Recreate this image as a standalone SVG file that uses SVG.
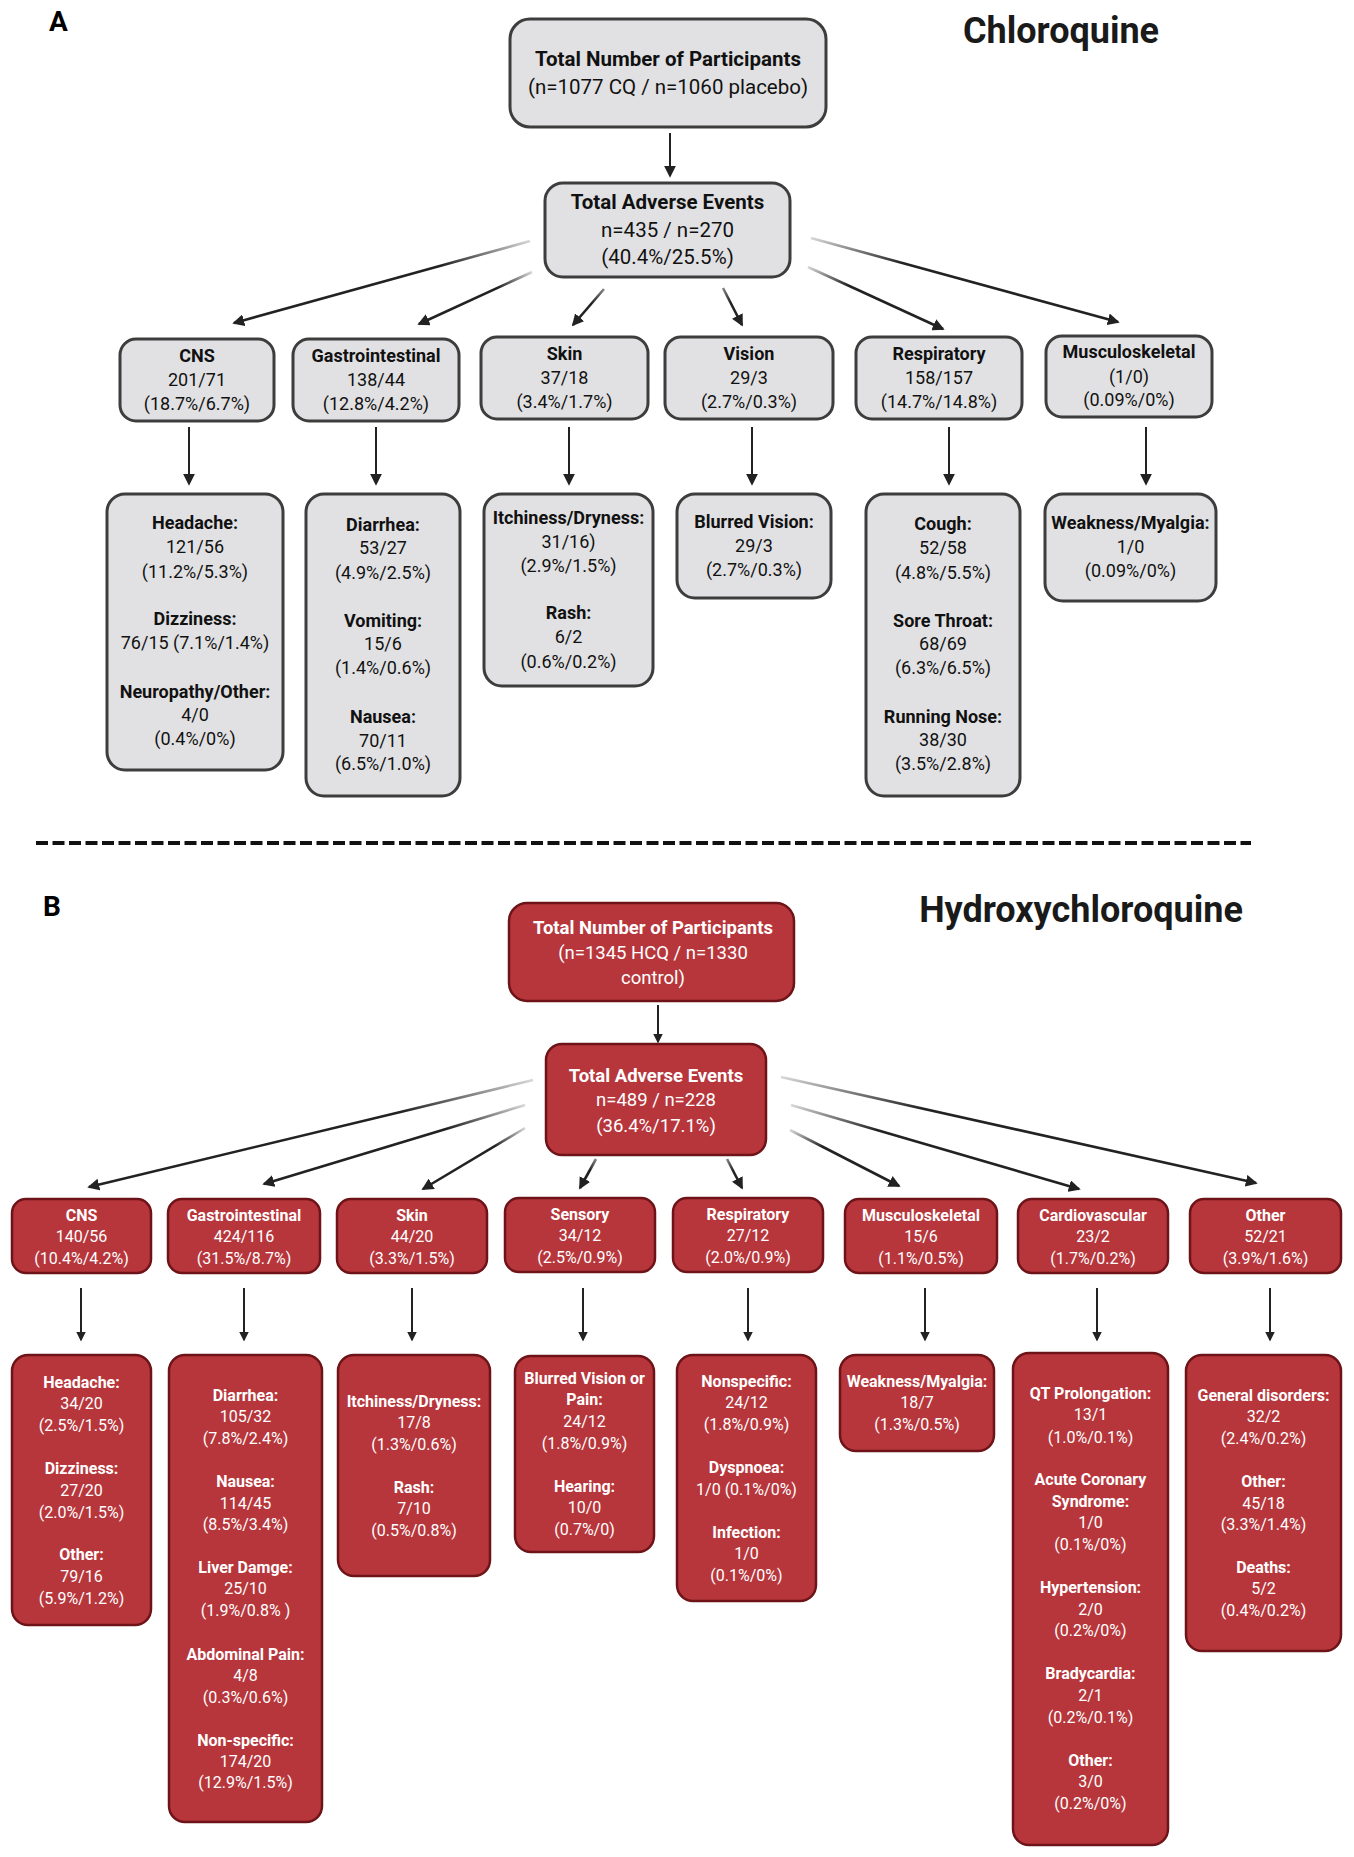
<svg xmlns="http://www.w3.org/2000/svg" width="1354" height="1857" viewBox="0 0 1354 1857">
<style>
text{font-family:Roboto,"Liberation Sans",sans-serif;text-anchor:middle}
.b{font-weight:700}
.ga{fill:#e1e1e3;stroke:#3d3d3d;stroke-width:3}
.rb{fill:#b7363c;stroke:#6e1418;stroke-width:2.5}
.A text{fill:#111;font-size:18px}
.A .big{font-size:20.5px}
.B text{fill:#fff;font-size:16px}
.B .big{font-size:18.5px}
.ttl{font-size:36px;fill:#1a1a1a;font-weight:700}
.lab{font-size:28px;fill:#000;font-weight:700;text-anchor:start}
.c{fill:none;stroke:#222;stroke-width:2}
.d{fill:none;stroke-width:2.6}
</style>
<defs>
<marker id="ah" viewBox="0 0 10 10" refX="8.5" refY="5" markerUnits="userSpaceOnUse" markerWidth="12" markerHeight="12" orient="auto"><path d="M0,0 L10,5 L0,10 z" fill="#222"/></marker>
<marker id="ahs" viewBox="0 0 10 10" refX="8.5" refY="5" markerUnits="userSpaceOnUse" markerWidth="10" markerHeight="10" orient="auto"><path d="M0,0 L10,5 L0,10 z" fill="#222"/></marker>
<linearGradient id="gL" x1="1" y1="0" x2="0" y2="1"><stop offset="0" stop-color="#d8d8d8"/><stop offset="0.3" stop-color="#222"/><stop offset="1" stop-color="#222"/></linearGradient>
<linearGradient id="gR" x1="0" y1="0" x2="1" y2="1"><stop offset="0" stop-color="#d8d8d8"/><stop offset="0.3" stop-color="#222"/><stop offset="1" stop-color="#222"/></linearGradient>
<linearGradient id="gL2" x1="1" y1="0" x2="0" y2="1"><stop offset="0" stop-color="#888"/><stop offset="0.4" stop-color="#222"/><stop offset="1" stop-color="#222"/></linearGradient>
<linearGradient id="gR2" x1="0" y1="0" x2="1" y2="1"><stop offset="0" stop-color="#888"/><stop offset="0.4" stop-color="#222"/><stop offset="1" stop-color="#222"/></linearGradient>
</defs>
<rect width="1354" height="1857" fill="#fff"/>

<text class="lab" x="49" y="31">A</text>
<text class="ttl" x="1061" y="43">Chloroquine</text>
<text class="lab" x="43" y="916">B</text>
<text class="ttl" x="1081" y="922">Hydroxychloroquine</text>
<line x1="36" y1="843" x2="1251" y2="843" stroke="#111" stroke-width="4" stroke-dasharray="12 4.5"/>

<g id="connectors">
<line class="c" x1="670" y1="133" x2="670" y2="176" marker-end="url(#ah)"/>
<line class="d" stroke="url(#gL)" x1="530" y1="241" x2="234" y2="323" marker-end="url(#ah)"/>
<line class="d" stroke="url(#gL)" x1="532" y1="272" x2="419" y2="324" marker-end="url(#ah)"/>
<line class="d" stroke="url(#gL2)" x1="604" y1="289" x2="573" y2="325" marker-end="url(#ah)"/>
<line class="d" stroke="url(#gR2)" x1="723" y1="288" x2="742" y2="325" marker-end="url(#ah)"/>
<line class="d" stroke="url(#gR)" x1="808" y1="267" x2="943" y2="329" marker-end="url(#ah)"/>
<line class="d" stroke="url(#gR)" x1="811" y1="238" x2="1118" y2="322" marker-end="url(#ah)"/>
<line class="c" x1="189" y1="427" x2="189" y2="484" marker-end="url(#ah)"/>
<line class="c" x1="376" y1="427" x2="376" y2="484" marker-end="url(#ah)"/>
<line class="c" x1="569" y1="427" x2="569" y2="484" marker-end="url(#ah)"/>
<line class="c" x1="752" y1="427" x2="752" y2="484" marker-end="url(#ah)"/>
<line class="c" x1="949" y1="427" x2="949" y2="484" marker-end="url(#ah)"/>
<line class="c" x1="1146" y1="427" x2="1146" y2="484" marker-end="url(#ah)"/>

<line class="c" x1="658" y1="1005" x2="658" y2="1042" marker-end="url(#ahs)"/>
<line class="d" stroke="url(#gL)" x1="533" y1="1080" x2="89" y2="1187" marker-end="url(#ah)"/>
<line class="d" stroke="url(#gL)" x1="525" y1="1105" x2="264" y2="1184" marker-end="url(#ah)"/>
<line class="d" stroke="url(#gL)" x1="525" y1="1128" x2="423" y2="1189" marker-end="url(#ah)"/>
<line class="d" stroke="url(#gL2)" x1="596" y1="1159" x2="580" y2="1188" marker-end="url(#ah)"/>
<line class="d" stroke="url(#gR2)" x1="727" y1="1159" x2="742" y2="1188" marker-end="url(#ah)"/>
<line class="d" stroke="url(#gR)" x1="790" y1="1130" x2="899" y2="1186" marker-end="url(#ah)"/>
<line class="d" stroke="url(#gR)" x1="791" y1="1105" x2="1079" y2="1189" marker-end="url(#ah)"/>
<line class="d" stroke="url(#gR)" x1="781" y1="1077" x2="1256" y2="1183" marker-end="url(#ah)"/>
<line class="c" x1="81" y1="1288" x2="81" y2="1340" marker-end="url(#ahs)"/>
<line class="c" x1="244" y1="1288" x2="244" y2="1340" marker-end="url(#ahs)"/>
<line class="c" x1="412" y1="1288" x2="412" y2="1340" marker-end="url(#ahs)"/>
<line class="c" x1="583" y1="1288" x2="583" y2="1340" marker-end="url(#ahs)"/>
<line class="c" x1="748" y1="1288" x2="748" y2="1340" marker-end="url(#ahs)"/>
<line class="c" x1="925" y1="1288" x2="925" y2="1340" marker-end="url(#ahs)"/>
<line class="c" x1="1097" y1="1288" x2="1097" y2="1340" marker-end="url(#ahs)"/>
<line class="c" x1="1270" y1="1288" x2="1270" y2="1340" marker-end="url(#ahs)"/>
</g>

<g class="A">
<g id="a-total">
<rect class="ga" x="510" y="19" width="316" height="108" rx="20"/>
<text class="b big" x="668" y="66">Total Number of Participants</text>
<text class="big" x="668" y="94">(n=1077 CQ / n=1060 placebo)</text>
</g>
<g id="a-ae">
<rect class="ga" x="545" y="183" width="245" height="94" rx="18"/>
<text class="b big" x="667.5" y="209">Total Adverse Events</text>
<text class="big" x="667.5" y="237">n=435 / n=270</text>
<text class="big" x="667.5" y="264">(40.4%/25.5%)</text>
</g>
<g id="a-cns">
<rect class="ga" x="120" y="339" width="154" height="82" rx="16"/>
<text class="b" x="197" y="362">CNS</text><text x="197" y="386">201/71</text><text x="197" y="410">(18.7%/6.7%)</text>
</g>
<g id="a-gi">
<rect class="ga" x="293" y="339" width="166" height="82" rx="16"/>
<text class="b" x="376" y="362">Gastrointestinal</text><text x="376" y="386">138/44</text><text x="376" y="410">(12.8%/4.2%)</text>
</g>
<g id="a-skin">
<rect class="ga" x="481" y="337" width="167" height="82" rx="16"/>
<text class="b" x="564.5" y="360">Skin</text><text x="564.5" y="384">37/18</text><text x="564.5" y="408">(3.4%/1.7%)</text>
</g>
<g id="a-vision">
<rect class="ga" x="665" y="337" width="168" height="82" rx="16"/>
<text class="b" x="749" y="360">Vision</text><text x="749" y="384">29/3</text><text x="749" y="408">(2.7%/0.3%)</text>
</g>
<g id="a-resp">
<rect class="ga" x="856" y="337" width="166" height="82" rx="16"/>
<text class="b" x="939" y="360">Respiratory</text><text x="939" y="384">158/157</text><text x="939" y="408">(14.7%/14.8%)</text>
</g>
<g id="a-musc">
<rect class="ga" x="1046" y="336" width="166" height="81" rx="16"/>
<text class="b" x="1129" y="358">Musculoskeletal</text><text x="1129" y="383">(1/0)</text><text x="1129" y="406">(0.09%/0%)</text>
</g>

<g id="a-cns-d">
<rect class="ga" x="107" y="494" width="176" height="276" rx="18"/>
<text class="b" x="195" y="529">Headache:</text><text x="195" y="553">121/56</text><text x="195" y="578">(11.2%/5.3%)</text>
<text class="b" x="195" y="625">Dizziness:</text><text x="195" y="649">76/15 (7.1%/1.4%)</text>
<text class="b" x="195" y="698">Neuropathy/Other:</text><text x="195" y="721">4/0</text><text x="195" y="745">(0.4%/0%)</text>
</g>
<g id="a-gi-d">
<rect class="ga" x="306" y="494" width="154" height="302" rx="18"/>
<text class="b" x="383" y="531">Diarrhea:</text><text x="383" y="554">53/27</text><text x="383" y="579">(4.9%/2.5%)</text>
<text class="b" x="383" y="627">Vomiting:</text><text x="383" y="650">15/6</text><text x="383" y="674">(1.4%/0.6%)</text>
<text class="b" x="383" y="723">Nausea:</text><text x="383" y="747">70/11</text><text x="383" y="770">(6.5%/1.0%)</text>
</g>
<g id="a-skin-d">
<rect class="ga" x="484" y="494" width="169" height="192" rx="18"/>
<text class="b" x="568.5" y="524">Itchiness/Dryness:</text><text x="568.5" y="548">31/16)</text><text x="568.5" y="572">(2.9%/1.5%)</text>
<text class="b" x="568.5" y="619">Rash:</text><text x="568.5" y="643">6/2</text><text x="568.5" y="668">(0.6%/0.2%)</text>
</g>
<g id="a-vision-d">
<rect class="ga" x="677" y="494" width="154" height="104" rx="18"/>
<text class="b" x="754" y="528">Blurred Vision:</text><text x="754" y="552">29/3</text><text x="754" y="576">(2.7%/0.3%)</text>
</g>
<g id="a-resp-d">
<rect class="ga" x="866" y="494" width="154" height="302" rx="18"/>
<text class="b" x="943" y="530">Cough:</text><text x="943" y="554">52/58</text><text x="943" y="579">(4.8%/5.5%)</text>
<text class="b" x="943" y="627">Sore Throat:</text><text x="943" y="650">68/69</text><text x="943" y="674">(6.3%/6.5%)</text>
<text class="b" x="943" y="723">Running Nose:</text><text x="943" y="746">38/30</text><text x="943" y="770">(3.5%/2.8%)</text>
</g>
<g id="a-musc-d">
<rect class="ga" x="1045" y="494" width="171" height="107" rx="18"/>
<text class="b" x="1130.5" y="529">Weakness/Myalgia:</text><text x="1130.5" y="553">1/0</text><text x="1130.5" y="577">(0.09%/0%)</text>
</g>
</g>

<g class="B">
<g id="b-total">
<rect class="rb" x="509" y="903" width="285" height="98" rx="18"/>
<text class="b big" x="653" y="933.5">Total Number of Participants</text>
<text class="big" x="653" y="958.5">(n=1345 HCQ / n=1330</text>
<text class="big" x="653" y="983.5">control)</text>
</g>
<g id="b-ae">
<rect class="rb" x="546" y="1044" width="220" height="111" rx="16"/>
<text class="b big" x="656" y="1081.5">Total Adverse Events</text>
<text class="big" x="656" y="1105.5">n=489 / n=228</text>
<text class="big" x="656" y="1131.5">(36.4%/17.1%)</text>
</g>
<g id="b-cns"><rect class="rb" x="12" y="1199" width="139" height="74" rx="14"/>
<text class="b" x="81.5" y="1220.6">CNS</text><text x="81.5" y="1241.6">140/56</text><text x="81.5" y="1263.6">(10.4%/4.2%)</text></g>
<g id="b-gi"><rect class="rb" x="168" y="1199" width="152" height="74" rx="14"/>
<text class="b" x="244" y="1220.6">Gastrointestinal</text><text x="244" y="1241.6">424/116</text><text x="244" y="1263.6">(31.5%/8.7%)</text></g>
<g id="b-skin"><rect class="rb" x="337" y="1199" width="150" height="74" rx="14"/>
<text class="b" x="412" y="1220.6">Skin</text><text x="412" y="1241.6">44/20</text><text x="412" y="1263.6">(3.3%/1.5%)</text></g>
<g id="b-sens"><rect class="rb" x="505" y="1198" width="150" height="74" rx="14"/>
<text class="b" x="580" y="1219.6">Sensory</text><text x="580" y="1240.6">34/12</text><text x="580" y="1262.6">(2.5%/0.9%)</text></g>
<g id="b-resp"><rect class="rb" x="673" y="1198" width="150" height="74" rx="14"/>
<text class="b" x="748" y="1219.6">Respiratory</text><text x="748" y="1240.6">27/12</text><text x="748" y="1262.6">(2.0%/0.9%)</text></g>
<g id="b-musc"><rect class="rb" x="845" y="1199" width="152" height="74" rx="14"/>
<text class="b" x="921" y="1220.6">Musculoskeletal</text><text x="921" y="1241.6">15/6</text><text x="921" y="1263.6">(1.1%/0.5%)</text></g>
<g id="b-cardio"><rect class="rb" x="1018" y="1199" width="150" height="74" rx="14"/>
<text class="b" x="1093" y="1220.6">Cardiovascular</text><text x="1093" y="1241.6">23/2</text><text x="1093" y="1263.6">(1.7%/0.2%)</text></g>
<g id="b-other"><rect class="rb" x="1190" y="1199" width="151" height="74" rx="14"/>
<text class="b" x="1265.5" y="1220.6">Other</text><text x="1265.5" y="1241.6">52/21</text><text x="1265.5" y="1263.6">(3.9%/1.6%)</text></g>

<g id="b-cns-d"><rect class="rb" x="12" y="1355" width="139" height="270" rx="16"/>
<text class="b" x="81.5" y="1387.6">Headache:</text><text x="81.5" y="1408.6">34/20</text><text x="81.5" y="1430.6">(2.5%/1.5%)</text>
<text class="b" x="81.5" y="1473.6">Dizziness:</text><text x="81.5" y="1495.6">27/20</text><text x="81.5" y="1517.6">(2.0%/1.5%)</text>
<text class="b" x="81.5" y="1559.6">Other:</text><text x="81.5" y="1581.6">79/16</text><text x="81.5" y="1603.6">(5.9%/1.2%)</text></g>
<g id="b-gi-d"><rect class="rb" x="169" y="1355" width="153" height="467" rx="16"/>
<text class="b" x="245.5" y="1400.6">Diarrhea:</text><text x="245.5" y="1421.6">105/32</text><text x="245.5" y="1443.6">(7.8%/2.4%)</text>
<text class="b" x="245.5" y="1486.6">Nausea:</text><text x="245.5" y="1508.6">114/45</text><text x="245.5" y="1529.6">(8.5%/3.4%)</text>
<text class="b" x="245.5" y="1572.6">Liver Damge:</text><text x="245.5" y="1593.6">25/10</text><text x="245.5" y="1615.6">(1.9%/0.8% )</text>
<text class="b" x="245.5" y="1659.6">Abdominal Pain:</text><text x="245.5" y="1680.6">4/8</text><text x="245.5" y="1702.6">(0.3%/0.6%)</text>
<text class="b" x="245.5" y="1745.6">Non-specific:</text><text x="245.5" y="1766.6">174/20</text><text x="245.5" y="1787.6">(12.9%/1.5%)</text></g>
<g id="b-skin-d"><rect class="rb" x="338" y="1355" width="152" height="221" rx="16"/>
<text class="b" x="414" y="1406.6">Itchiness/Dryness:</text><text x="414" y="1427.6">17/8</text><text x="414" y="1449.6">(1.3%/0.6%)</text>
<text class="b" x="414" y="1492.6">Rash:</text><text x="414" y="1513.6">7/10</text><text x="414" y="1535.6">(0.5%/0.8%)</text></g>
<g id="b-sens-d"><rect class="rb" x="515" y="1356" width="139" height="196" rx="16"/>
<text class="b" x="584.5" y="1383.6">Blurred Vision or</text><text class="b" x="584.5" y="1404.6">Pain:</text><text x="584.5" y="1426.6">24/12</text><text x="584.5" y="1448.6">(1.8%/0.9%)</text>
<text class="b" x="584.5" y="1491.6">Hearing:</text><text x="584.5" y="1512.6">10/0</text><text x="584.5" y="1534.6">(0.7%/0)</text></g>
<g id="b-resp-d"><rect class="rb" x="677" y="1355" width="139" height="246" rx="16"/>
<text class="b" x="746.5" y="1386.6">Nonspecific:</text><text x="746.5" y="1407.6">24/12</text><text x="746.5" y="1429.6">(1.8%/0.9%)</text>
<text class="b" x="746.5" y="1472.6">Dyspnoea:</text><text x="746.5" y="1494.6">1/0 (0.1%/0%)</text>
<text class="b" x="746.5" y="1537.6">Infection:</text><text x="746.5" y="1558.6">1/0</text><text x="746.5" y="1580.6">(0.1%/0%)</text></g>
<g id="b-musc-d"><rect class="rb" x="840" y="1355" width="154" height="96" rx="16"/>
<text class="b" x="917" y="1386.6">Weakness/Myalgia:</text><text x="917" y="1407.6">18/7</text><text x="917" y="1429.6">(1.3%/0.5%)</text></g>
<g id="b-cardio-d"><rect class="rb" x="1013" y="1353" width="155" height="492" rx="16"/>
<text class="b" x="1090.5" y="1398.6">QT Prolongation:</text><text x="1090.5" y="1419.6">13/1</text><text x="1090.5" y="1442.6">(1.0%/0.1%)</text>
<text class="b" x="1090.5" y="1484.6">Acute Coronary</text><text class="b" x="1090.5" y="1506.6">Syndrome:</text><text x="1090.5" y="1527.6">1/0</text><text x="1090.5" y="1549.6">(0.1%/0%)</text>
<text class="b" x="1090.5" y="1592.6">Hypertension:</text><text x="1090.5" y="1614.6">2/0</text><text x="1090.5" y="1635.6">(0.2%/0%)</text>
<text class="b" x="1090.5" y="1678.6">Bradycardia:</text><text x="1090.5" y="1700.6">2/1</text><text x="1090.5" y="1722.6">(0.2%/0.1%)</text>
<text class="b" x="1090.5" y="1765.6">Other:</text><text x="1090.5" y="1786.6">3/0</text><text x="1090.5" y="1808.6">(0.2%/0%)</text></g>
<g id="b-other-d"><rect class="rb" x="1186" y="1355" width="155" height="296" rx="16"/>
<text class="b" x="1263.5" y="1400.6">General disorders:</text><text x="1263.5" y="1421.6">32/2</text><text x="1263.5" y="1443.6">(2.4%/0.2%)</text>
<text class="b" x="1263.5" y="1486.6">Other:</text><text x="1263.5" y="1508.6">45/18</text><text x="1263.5" y="1529.6">(3.3%/1.4%)</text>
<text class="b" x="1263.5" y="1572.6">Deaths:</text><text x="1263.5" y="1593.6">5/2</text><text x="1263.5" y="1615.6">(0.4%/0.2%)</text></g>
</g>
</svg>
